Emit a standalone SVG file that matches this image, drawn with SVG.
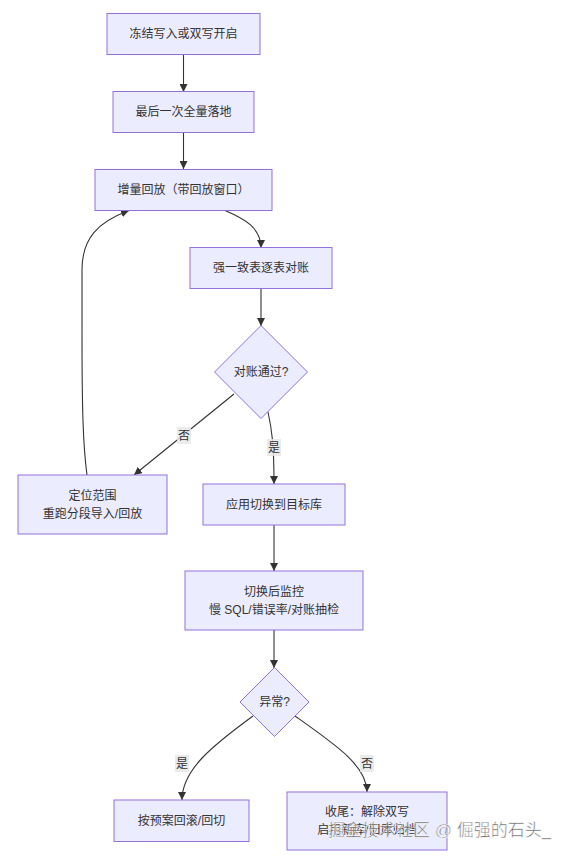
<svg xmlns="http://www.w3.org/2000/svg" width="565" height="856" viewBox="0 0 565 856">
<style>
.node rect,.node polygon{fill:#ECECFF;stroke:#9370DB;stroke-width:1}
text{font-family:"Trebuchet MS","Liberation Sans","Noto Sans CJK SC",sans-serif;font-size:12px;fill:#333;text-anchor:middle;dominant-baseline:central}
.edge{fill:none;stroke:#333;stroke-width:1.1}
.lbl rect{fill:#e8e8e8;opacity:0.85}
.wm{font-size:17px;fill:#585858;stroke:#fff;stroke-width:0.5;opacity:0.9;text-anchor:start}
</style>
<defs>
<marker id="arr" viewBox="0 0 10 10" refX="10" refY="5" markerUnits="userSpaceOnUse" markerWidth="8" markerHeight="8" orient="auto">
<path d="M0,0 L10,5 L0,10 z" fill="#333"/>
</marker>
</defs>
<rect width="565" height="856" fill="#fff"/>
<g id="connectors">
<path class="edge" marker-end="url(#arr)" d="M183.5,54 L183.5,92"/>
<path class="edge" marker-end="url(#arr)" d="M183.5,132 L183.5,169"/>
<path class="edge" marker-end="url(#arr)" d="M225,210.5 C245,219 261,228 261,248"/>
<path class="edge" marker-end="url(#arr)" d="M261,288 L261,326"/>
<path class="edge" marker-end="url(#arr)" d="M234,394 L134,475"/>
<path class="edge" marker-end="url(#arr)" d="M268,412 C272,430 274,445 274,484"/>
<path class="edge" marker-end="url(#arr)" d="M87,475 C83,445 82,410 82,330 L82,270 C82,238 98,222 129,210.5"/>
<path class="edge" marker-end="url(#arr)" d="M274,525 L274,571"/>
<path class="edge" marker-end="url(#arr)" d="M274,630 L274,668"/>
<path class="edge" marker-end="url(#arr)" d="M253,716 C212,746 182,770 182,800"/>
<path class="edge" marker-end="url(#arr)" d="M295,716 C336,745 367,766 367,792"/>
<g class="lbl"><rect x="177" y="427" width="14" height="17"/><text x="184" y="435.5">否</text></g>
<g class="lbl"><rect x="267" y="439" width="14" height="17"/><text x="274" y="447.5">是</text></g>
<g class="lbl"><rect x="175" y="755" width="14" height="17"/><text x="182" y="763.5">是</text></g>
<g class="lbl"><rect x="360" y="755" width="14" height="17"/><text x="367" y="763.5">否</text></g>
</g>
<g id="n1" class="node"><rect x="107" y="13.5" width="153" height="41"/><text x="183.5" y="34">冻结写入或双写开启</text></g>
<g id="n2" class="node"><rect x="113" y="91.5" width="141" height="41"/><text x="183.5" y="112">最后一次全量落地</text></g>
<g id="n3" class="node"><rect x="95" y="169.5" width="177" height="41"/><text x="183.5" y="190">增量回放（带回放窗口）</text></g>
<g id="n4" class="node"><rect x="190" y="247.5" width="142" height="41"/><text x="261" y="268">强一致表逐表对账</text></g>
<g id="d1" class="node"><polygon points="261,325.5 307.5,372 261,418.5 214.5,372"/><text x="261" y="372">对账通过?</text></g>
<g id="n5" class="node"><rect x="18" y="475" width="149" height="59"/><text x="92.5" y="495.5">定位范围</text><text x="92.5" y="513.5">重跑分段导入/回放</text></g>
<g id="n6" class="node"><rect x="203" y="484" width="142" height="41"/><text x="274" y="504.5">应用切换到目标库</text></g>
<g id="n7" class="node"><rect x="185" y="571" width="178" height="59"/><text x="274" y="591.5">切换后监控</text><text x="274" y="610">慢 SQL/错误率/对账抽检</text></g>
<g id="d2" class="node"><polygon points="274.5,667.5 309,702 274.5,736.5 240,702"/><text x="274.5" y="702">异常?</text></g>
<g id="n8" class="node"><rect x="114" y="800" width="135" height="41.5"/><text x="181.5" y="821">按预案回滚/回切</text></g>
<g id="n9" class="node"><rect x="287" y="792" width="160" height="58"/><text x="367" y="812">收尾：解除双写</text><text x="367" y="830">启用新库/旧库归档</text></g>
<text class="wm" x="328" y="830">掘金技术社区 @ 倔强的石头_</text>
</svg>
